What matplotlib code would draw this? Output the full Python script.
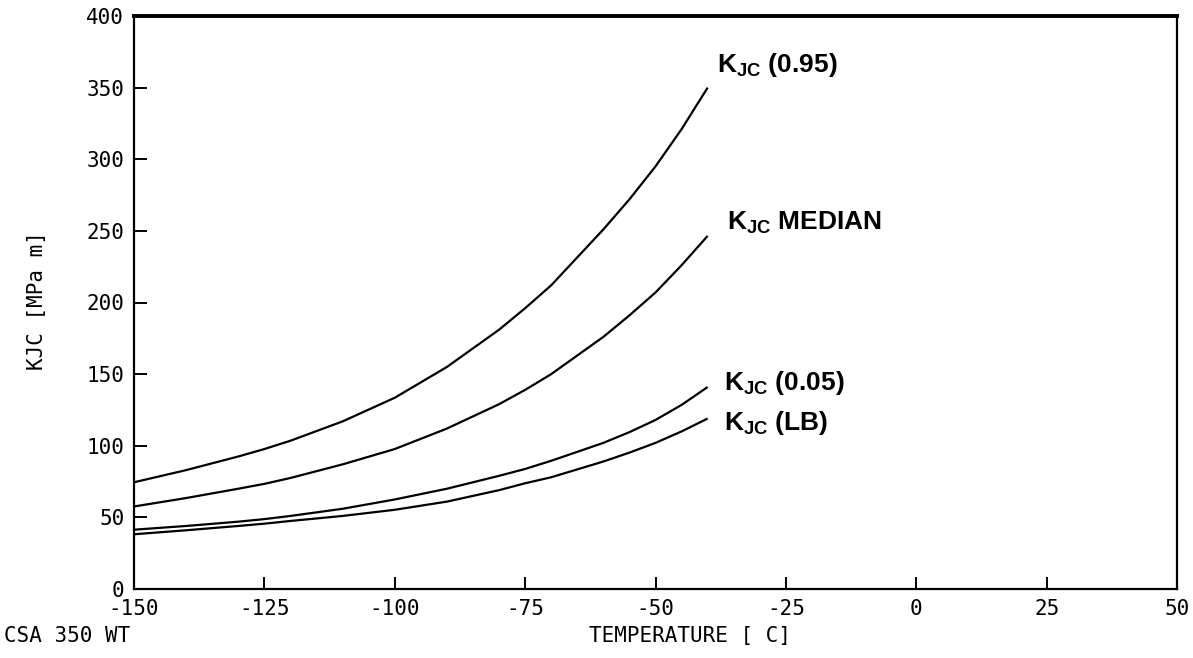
import matplotlib
matplotlib.use("Agg")
import matplotlib.pyplot as plt

# Fracture toughness curves for CSA 350 WT
temperature = [-150, -140, -130, -125, -120, -110, -100, -90, -80, -75, -70, -60, -55, -50, -45, -40]
kjc_095 = [74.5, 83, 92.5, 97.7, 103.5, 117, 133.5, 155, 181, 196, 212, 251, 272, 295, 321, 350]
kjc_median = [57.6, 63.5, 70, 73.4, 77.5, 87, 97.7, 112, 129, 139, 150, 176, 191, 207, 226, 246.5]
kjc_005 = [41.4, 44, 47, 48.8, 51, 56, 62.5, 70, 79, 83.8, 89.5, 102, 109.5, 118, 128.5, 141]
kjc_lb = [38.2, 41, 44, 45.6, 47.5, 51, 55.3, 61, 69, 73.8, 78, 89, 95.2, 102, 110, 119]

x_ticks = [-150, -125, -100, -75, -50, -25, 0, 25, 50]
y_ticks = [0, 50, 100, 150, 200, 250, 300, 350, 400]

curve_labels = [r"K$_{\mathbf{JC}}$ (0.95)", r"K$_{\mathbf{JC}}$ MEDIAN",
                r"K$_{\mathbf{JC}}$ (0.05)", r"K$_{\mathbf{JC}}$ (LB)"]
label_pos = [(-38.3, 366), (-36.2, 255.5), (-36.8, 143.8), (-36.8, 116)]

plt.rcParams["mathtext.fontset"] = "custom"
plt.rcParams["mathtext.rm"] = "Liberation Sans:bold"
plt.rcParams["mathtext.bf"] = "Liberation Sans:bold"
plt.rcParams["mathtext.it"] = "Liberation Sans:bold"

fig = plt.figure(figsize=(11.93, 6.58), dpi=100)
ax = fig.add_axes([134 / 1193, 1 - 589 / 658, (1177 - 134) / 1193, (589 - 16) / 658])

for series in (kjc_095, kjc_median, kjc_005, kjc_lb):
    ax.plot(temperature, series, color="black", lw=1.6,
            solid_capstyle="butt", solid_joinstyle="round")

for text, (tx, ty) in zip(curve_labels, label_pos):
    ax.text(tx, ty, text, ha="left", va="center", fontsize=19,
            family="Liberation Sans", fontweight="bold", color="black")

ax.set_xlim(-150, 50)
ax.set_ylim(0, 400)
ax.set_xticks(x_ticks)
ax.set_yticks(y_ticks)
mono = dict(family="DejaVu Sans Mono", fontsize=15)
ax.set_xticklabels([str(v) for v in x_ticks], **mono)
ax.set_yticklabels([str(v) for v in y_ticks], **mono)
ax.tick_params(direction="in", length=9, width=1.4, pad=7, colors="black")

for side in ("left", "right", "bottom"):
    ax.spines[side].set_linewidth(1.6)
ax.spines["top"].set_linewidth(2.8)

fig.text(37 / 1193, 1 - 301 / 658, "KJC [MPa m]", rotation=90, ha="center", va="center", **mono)
fig.text(690 / 1193, 1 - 636 / 658, "TEMPERATURE [ C]", ha="center", va="center", **mono)
fig.text(4 / 1193, 1 - 636 / 658, "CSA 350 WT", ha="left", va="center", **mono)

fig.savefig("out.png", dpi=100, facecolor="white")
